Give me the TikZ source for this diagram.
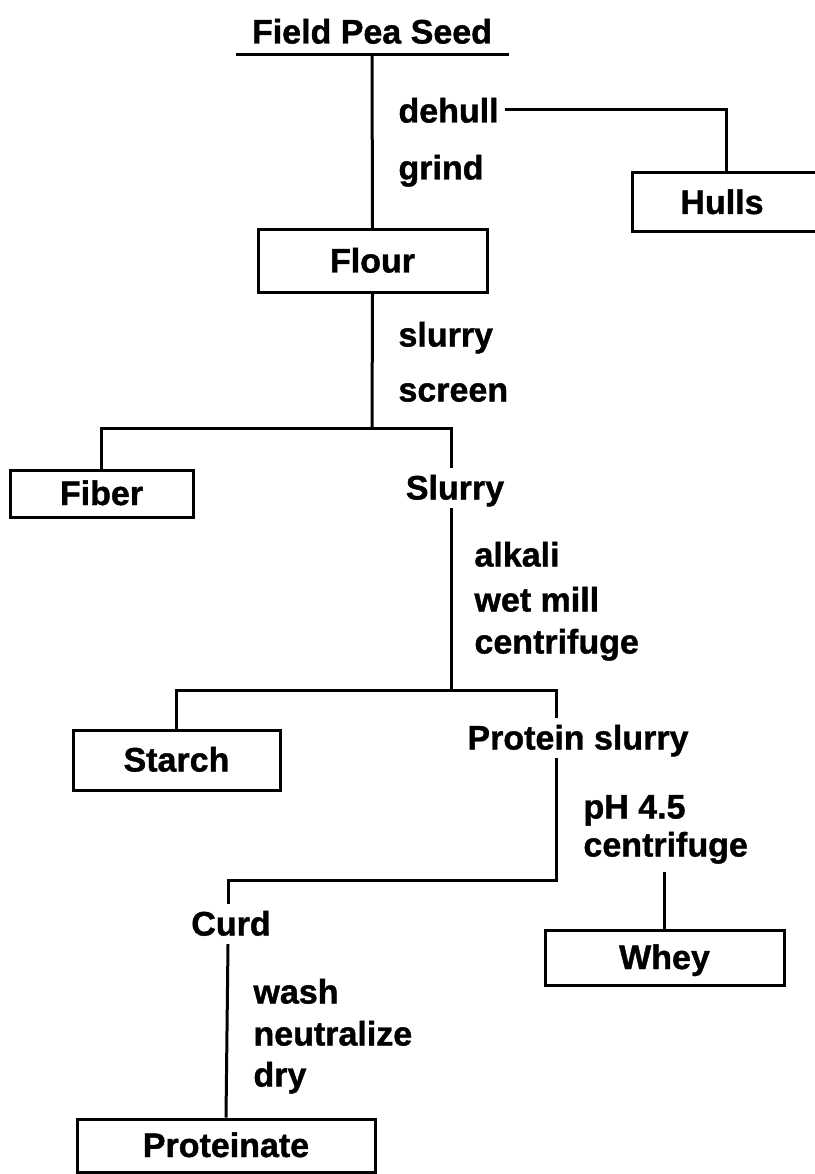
\documentclass[tikz,border=0pt]{standalone}
\usepackage{fontspec}
\setmainfont{Liberation Sans}[BoldFeatures={FakeBold=1.2}]

\tikzset{
    every node/.style={font=\fontsize{34}{40}\selectfont\bfseries, inner sep=3pt,
        text height=27pt, text depth=4pt},
    product/.style={draw, line width=3pt},
    treat/.style={anchor=west},
}

\begin{document}
\begin{tikzpicture}[x=1pt, y=-1pt, line width=3pt]
    \useasboundingbox (0, 0) rectangle (814, 1174);

    % main stream
    \node [anchor=south, minimum width=270pt, inner ysep=6pt] (seed) at (372, 55) {Field Pea Seed};
    \node [product, minimum width=229pt, minimum height=62pt] (flour) at (372.5, 261) {Flour};
    \node (slurry) at (455, 488) {Slurry};
    \node (protslurry) at (578, 738) {Protein slurry};
    \node (curd) at (231, 924) {Curd};
    \node [product, minimum width=298pt, minimum height=53pt] (proteinate) at (226, 1145.5) {Proteinate};

    % side streams
    \node [product, minimum width=200pt, minimum height=59pt] (hulls) at (732, 202.5) {\hspace*{-20pt}Hulls};
    \node [product, minimum width=183pt, minimum height=47pt] (fiber) at (101.5, 493.5) {Fiber};
    \node [product, minimum width=207pt, minimum height=60pt] (starch) at (176.5, 760) {Starch};
    \node [product, minimum width=239pt, minimum height=55pt] (whey) at (664.5, 957.5) {Whey};

    % process steps
    \foreach \name/\x/\y/\txt in {dehull/394/111/dehull, grind/394/168/grind,
            slurrystep/394/335/slurry, screen/394/390/screen,
            alkali/470/555/alkali, wetmill/470/600/wet mill, centrifugeA/470/642/centrifuge,
            ph/579/807/pH 4.5, centrifugeB/579/845/centrifuge,
            wash/249/992/wash, neutralize/249/1034/neutralize, dry/249/1075/dry}
        \node [treat] (\name) at (\x, \y) {\txt};

    \coordinate (fork1) at (372, 428);
    \coordinate (fork2) at (451, 690);
    \coordinate (fork3) at (556, 880);
    \coordinate (wheytop) at (664.5, 872);

    \draw (seed.south west) -- (seed.south east);
    \draw (seed.south) -- (flour.north);
    \draw ([xshift=2pt, yshift=1pt]dehull.east) -| ([xshift=-6pt]hulls.north);

    \draw (flour.south) -- (fork1);
    \draw (fiber.north) |- (fork1) -| ([xshift=-4pt]slurry.north);

    \draw ([xshift=-4pt]slurry.south) -- (fork2);
    \draw (starch.north) |- (fork2) -| ([xshift=-22pt]protslurry.north);

    \draw ([xshift=-22pt]protslurry.south) -- (fork3) -| ([xshift=-3pt]curd.north);
    \draw ([xshift=-3pt]curd.south) -- (proteinate.north);
    \draw (wheytop) -- (whey.north);
\end{tikzpicture}
\end{document}
